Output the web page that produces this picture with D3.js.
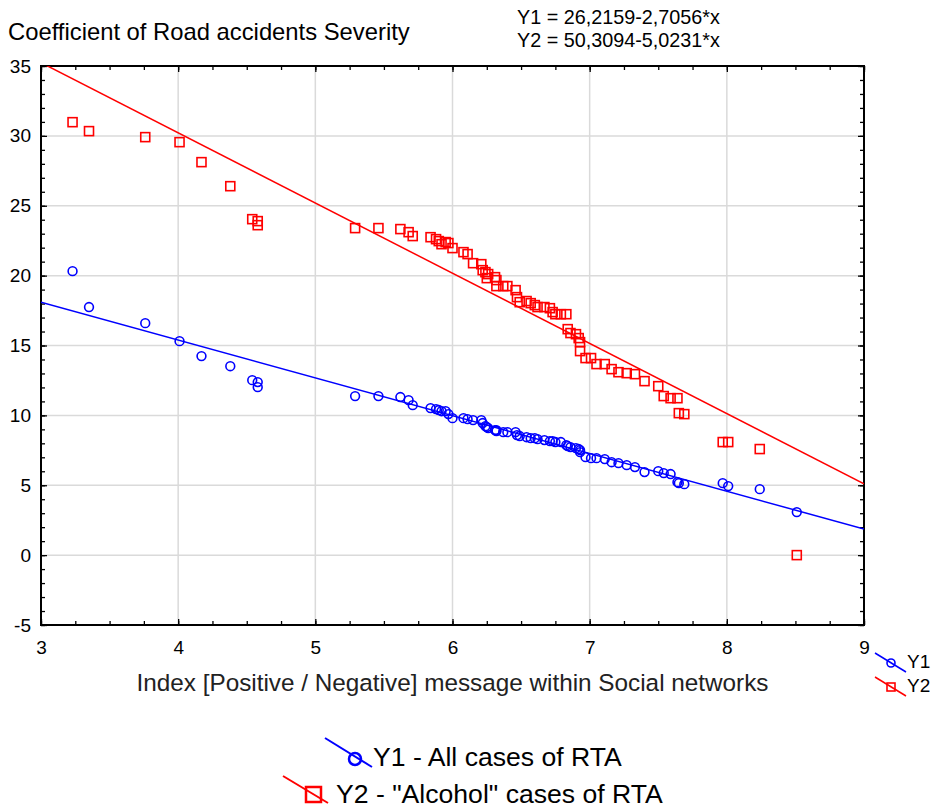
<!DOCTYPE html>
<html lang="en">
<head>
<meta charset="utf-8">
<script src="https://d3js.org/d3.v7.min.js"></script>
<style type="text/css">
body {
	margin: 0;
	background: #fff;
	font-family: "Liberation Sans", Arial, sans-serif;
}
.tick line { stroke: #000; }
.tick text { fill: #000; }
</style>
</head>
<body>
<script type="text/javascript">

// Index of positive / negative messages (shared by both series)
var xIndex = [3.23, 3.35, 3.76, 4.01, 4.17, 4.38, 4.54, 4.58, 4.58, 5.29,
              5.46, 5.62, 5.68, 5.71, 5.84, 5.88, 5.90, 5.92, 5.95, 5.97,
              6.00, 6.08, 6.11, 6.15, 6.21, 6.22, 6.24, 6.26, 6.25, 6.31,
              6.32, 6.32, 6.37, 6.40, 6.46, 6.47, 6.49, 6.54, 6.57, 6.60,
              6.62, 6.67, 6.71, 6.73, 6.75, 6.79, 6.83, 6.84, 6.86, 6.90,
              6.92, 6.93, 6.93, 6.97, 7.01, 7.05, 7.11, 7.16, 7.21, 7.27,
              7.33, 7.40, 7.50, 7.54, 7.59, 7.64, 7.65, 7.69, 7.97, 8.01,
              8.24, 8.51];

// Y1 - all cases of RTA
var y1All = [20.32, 17.75, 16.60, 15.31, 14.24, 13.52, 12.52, 12.38, 12.02, 11.38,
             11.38, 11.31, 11.09, 10.73, 10.52, 10.45, 10.38, 10.30, 10.30, 10.09,
             9.80, 9.80, 9.73, 9.66, 9.66, 9.45, 9.23, 9.09, 9.16, 8.94,
             8.94, 8.87, 8.80, 8.80, 8.80, 8.59, 8.52, 8.44, 8.37, 8.37,
             8.30, 8.23, 8.16, 8.16, 8.09, 8.09, 7.87, 7.80, 7.73, 7.66,
             7.59, 7.51, 7.37, 7.01, 6.94, 6.94, 6.87, 6.65, 6.58, 6.44,
             6.30, 5.94, 6.01, 5.87, 5.80, 5.22, 5.15, 5.08, 5.15, 4.94,
             4.72, 3.08];

// Y2 - "Alcohol" cases of RTA
var y2Alcohol = [30.98, 30.34, 29.91, 29.55, 28.12, 26.40, 24.04, 23.90, 23.61, 23.40,
                 23.40, 23.33, 23.11, 22.83, 22.75, 22.61, 22.47, 22.25, 22.40, 22.33,
                 21.97, 21.68, 21.54, 20.89, 20.82, 20.39, 20.25, 20.11, 19.82, 19.89,
                 19.68, 19.25, 19.25, 19.25, 18.96, 18.46, 18.10, 18.18, 18.03, 17.89,
                 17.75, 17.75, 17.67, 17.39, 17.24, 17.24, 17.24, 16.17, 15.89, 15.81,
                 15.53, 15.24, 14.60, 14.10, 14.10, 13.67, 13.67, 13.31, 13.09, 13.02,
                 12.95, 12.45, 12.09, 11.38, 11.23, 11.23, 10.16, 10.09, 8.09, 8.09,
                 7.59, 0.00];

// regression lines: [intercept, slope]
var fit1 = [26.2159, -2.7056];
var fit2 = [50.3094, -5.0231];

var xTicks = [3, 4, 5, 6, 7, 8, 9];
var yTicks = [-5, 0, 5, 10, 15, 20, 25, 30, 35];

var seriesNames = ["Y1", "Y2"];
var legendText = ["Y1 - All cases of RTA", "Y2 - \"Alcohol\" cases of RTA"];
var titleText = "Coefficient of Road accidents Severity";
var eqText = ["Y1 = 26,2159-2,7056*x", "Y2 = 50,3094-5,0231*x"];
var xTitle = "Index [Positive / Negative] message within Social networks";

var width = 943, height = 808;
var pl = 41, pr = 864, pt = 66, pb = 625;
var blue = "#0000ff", red = "#ff0000";
var font = "Liberation Sans, Arial, sans-serif";

var svg = d3.select("body").append("svg")
    .attr("width", width)
    .attr("height", height)
    .style("font-family", font);

var x = d3.scaleLinear().domain([3, 9]).range([pl, pr]);
var y = d3.scaleLinear().domain([-5, 35]).range([pb, pt]);

// grid
svg.append("g").selectAll("line")
   .data(xTicks.slice(1, -1))
   .enter().append("line")
   .attr("x1", d => x(d)).attr("x2", d => x(d))
   .attr("y1", pt).attr("y2", pb)
   .style("stroke", "#dadada").style("stroke-width", 1.5);

svg.append("g").selectAll("line")
   .data(yTicks.slice(1, -1))
   .enter().append("line")
   .attr("x1", pl).attr("x2", pr)
   .attr("y1", d => y(d)).attr("y2", d => y(d))
   .style("stroke", "#dadada").style("stroke-width", 1.5);

// axes, ticks pointing inward on all four sides
var xMinor = d3.range(3, 9.001, 0.25);
var yMinor = d3.range(-5, 35.001, 1);
var plain = function(d) { return String(d); };   // keep the ascii hyphen for -5

function addAxis(axis, tx, ty) {
  var g = svg.append("g").attr("transform", "translate(" + tx + "," + ty + ")").call(axis);
  g.select(".domain").remove();
  return g;
}

addAxis(d3.axisBottom(x).tickValues(xMinor).tickSize(-4).tickFormat(""), 0, pb);
addAxis(d3.axisTop(x).tickValues(xMinor).tickSize(-4).tickFormat(""), 0, pt);
addAxis(d3.axisLeft(y).tickValues(yMinor).tickSize(-4).tickFormat(""), pl, 0);
addAxis(d3.axisRight(y).tickValues(yMinor).tickSize(-4).tickFormat(""), pr, 0);

var xa = addAxis(d3.axisBottom(x).tickValues(xTicks).tickSize(-6).tickPadding(16).tickFormat(plain), 0, pb);
xa.selectAll("text").style("font-size", "19px").style("font-family", font);
var ya = addAxis(d3.axisLeft(y).tickValues(yTicks).tickSize(-6).tickPadding(10).tickFormat(plain), pl, 0);
ya.selectAll("text").style("font-size", "19px").style("font-family", font);
addAxis(d3.axisTop(x).tickValues(xTicks).tickSize(-6).tickFormat(""), 0, pt);
addAxis(d3.axisRight(y).tickValues(yTicks).tickSize(-6).tickFormat(""), pr, 0);

svg.selectAll(".tick line").style("stroke-width", 1.3);

// frame
svg.append("rect")
   .attr("x", pl).attr("y", pt)
   .attr("width", pr - pl).attr("height", pb - pt)
   .style("fill", "none").style("stroke", "#000").style("stroke-width", 2);

// clip for fit lines
svg.append("clipPath").attr("id", "plot")
   .append("rect").attr("x", pl).attr("y", pt)
   .attr("width", pr - pl).attr("height", pb - pt);

var plot = svg.append("g").attr("clip-path", "url(#plot)");

[[fit1, blue], [fit2, red]].forEach(function(f) {
  plot.append("line")
      .attr("x1", x(3)).attr("y1", y(f[0][0] + f[0][1] * 3))
      .attr("x2", x(9)).attr("y2", y(f[0][0] + f[0][1] * 9))
      .style("stroke", f[1]).style("stroke-width", 1.5);
});

var points = xIndex.map(function(d, i) { return {x: d, y1: y1All[i], y2: y2Alcohol[i]}; });

// Y2 squares
svg.append("g").selectAll("rect")
   .data(points)
   .enter().append("rect")
   .attr("x", d => x(d.x) - 4.5)
   .attr("y", d => y(d.y2) - 4.5)
   .attr("width", 9).attr("height", 9)
   .style("fill", "none").style("stroke", red).style("stroke-width", 1.6);

// Y1 circles
svg.append("g").selectAll("circle")
   .data(points)
   .enter().append("circle")
   .attr("cx", d => x(d.x))
   .attr("cy", d => y(d.y1))
   .attr("r", 4.4)
   .style("fill", "none").style("stroke", blue).style("stroke-width", 1.6);

// titles
svg.append("text").attr("x", 8).attr("y", 40)
   .style("font-size", "23.8px").text(titleText);

svg.selectAll(".eq").data(eqText).enter().append("text")
   .attr("class", "eq")
   .attr("x", 517).attr("y", (d, i) => 24 + i * 23)
   .style("font-size", "19.8px").text(d => d);

svg.append("text").attr("x", (pl + pr) / 2).attr("y", 691)
   .attr("text-anchor", "middle")
   .style("font-size", "24.3px").style("fill", "#222").text(xTitle);

// right-hand key
var key = svg.append("g");
seriesNames.forEach(function(name, i) {
  var oy = i * 24;
  var col = i == 0 ? blue : red;
  key.append("line").attr("x1", 875).attr("y1", 653 + oy).attr("x2", 906).attr("y2", 672 + oy)
     .style("stroke", col).style("stroke-width", 1.5);
  if (i == 0) {
    key.append("circle").attr("cx", 891).attr("cy", 663 + oy).attr("r", 4)
       .style("fill", "none").style("stroke", col).style("stroke-width", 1.6);
  } else {
    key.append("rect").attr("x", 887).attr("y", 659 + oy).attr("width", 8).attr("height", 8)
       .style("fill", "none").style("stroke", col).style("stroke-width", 1.6);
  }
  key.append("text").attr("x", 907).attr("y", 668 + oy)
     .style("font-size", "19px").text(name);
});

// bottom legend
var lg = svg.append("g");
lg.append("line").attr("x1", 325).attr("y1", 738).attr("x2", 372).attr("y2", 767)
  .style("stroke", blue).style("stroke-width", 2);
lg.append("circle").attr("cx", 355).attr("cy", 759).attr("r", 6)
  .style("fill", "none").style("stroke", blue).style("stroke-width", 2.5);
lg.append("text").attr("x", 373).attr("y", 766).style("font-size", "26.6px").text(legendText[0]);

lg.append("line").attr("x1", 283).attr("y1", 776).attr("x2", 328).attr("y2", 803)
  .style("stroke", red).style("stroke-width", 2);
lg.append("rect").attr("x", 306).attr("y", 787).attr("width", 15).attr("height", 15)
  .style("fill", "none").style("stroke", red).style("stroke-width", 2.5);
lg.append("text").attr("x", 336).attr("y", 803).style("font-size", "26.6px").text(legendText[1]);

</script>
</body>
</html>
